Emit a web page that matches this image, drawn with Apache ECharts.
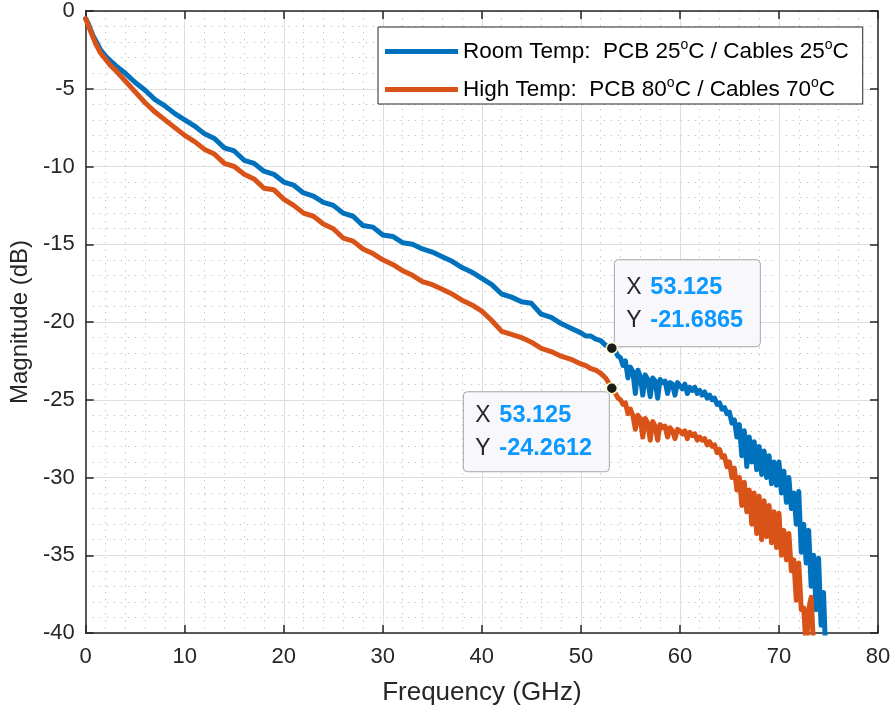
<!DOCTYPE html>
<html>
<head>
<meta charset="utf-8">
<script src="https://cdn.jsdelivr.net/npm/echarts@6/dist/echarts.min.js"></script>
<style>
html,body{margin:0;padding:0;background:#fff;}
#chart{width:895px;height:711px;}
</style>
</head>
<body>
<div id="chart"></div>
<script>
// ---- data ----
const seriesNames = ['Room Temp:  PCB 25\u00B0C / Cables 25\u00B0C', 'High Temp:  PCB 80\u00B0C / Cables 70\u00B0C'];
const legendLabels = ['Room Temp:  PCB 25{sup|o}C / Cables 25{sup|o}C', 'High Temp:  PCB 80{sup|o}C / Cables 70{sup|o}C'];
const xTicks = [0, 10, 20, 30, 40, 50, 60, 70, 80];
const yTicks = [-40, -35, -30, -25, -20, -15, -10, -5, 0];

const tipFreq = 53.125;
const tipRoom = -21.6865;
const tipHigh = -24.2612;

const freq = [
  0, 0.25, 0.5, 0.75, 1, 1.5, 2, 2.5, 3,
  4, 5, 6, 7, 8, 9, 10, 11, 12, 13,
  14, 15, 16, 17, 18, 19, 20, 21, 22, 23,
  24, 25, 26, 27, 28, 29, 30, 31, 32, 33,
  34, 35, 36, 37, 38, 39, 40, 41, 42, 43,
  44, 45, 46, 47, 48, 49, 50,
  50.5, 51, 51.5, 52, 52.5, 53, 53.125,
  53.25, 53.5, 53.75,
  54, 54.25, 54.5, 54.75,
  55, 55.25, 55.5, 55.75,
  56, 56.25, 56.5, 56.75,
  57, 57.25, 57.5, 57.75,
  58, 58.25, 58.5, 58.75,
  59, 59.25, 59.5, 59.75,
  60, 60.25, 60.5, 60.75,
  61, 61.25, 61.5, 61.75,
  62, 62.25, 62.5, 62.75,
  63, 63.25, 63.5, 63.75,
  64, 64.25, 64.5, 64.75,
  65, 65.25, 65.5, 65.75,
  66, 66.25, 66.5, 66.75,
  67, 67.25, 67.5, 67.75,
  68, 68.25, 68.5, 68.75,
  69, 69.25, 69.5, 69.75,
  70, 70.25, 70.5, 70.75,
  71, 71.25, 71.5, 71.75,
  72, 72.25, 72.5, 72.75,
  73, 73.25, 73.5, 73.75,
  74, 74.25, 74.5, 74.75
];

const roomTemp = [
  -0.5, -0.8, -1.2, -1.6, -1.9, -2.5, -2.9, -3.2, -3.5,
  -4.0, -4.6, -5.1, -5.7, -6.1, -6.6, -7.0, -7.4, -7.9, -8.2,
  -8.8, -9.0, -9.6, -9.8, -10.3, -10.5, -11.0, -11.2, -11.7, -11.9,
  -12.3, -12.5, -13.0, -13.2, -13.8, -13.9, -14.4, -14.5, -14.9, -15.0,
  -15.3, -15.5, -15.8, -16.1, -16.5, -16.8, -17.2, -17.6, -18.2, -18.4,
  -18.7, -18.8, -19.5, -19.7, -20.1, -20.4, -20.7,
  -20.9, -20.9, -21.1, -21.2, -21.5, -21.6, -21.6865,
  -21.8, -21.9, -22.2,
  -22.3, -22.8, -22.5, -23.6,
  -22.9, -23.2, -24.6, -23.1,
  -23.5, -24.7, -23.4, -23.7,
  -24.8, -23.6, -23.8, -24.9,
  -23.7, -23.9, -23.8, -24.6,
  -23.9, -24.0, -24.7, -23.9,
  -24.1, -24.3, -24.0, -24.6,
  -24.2, -24.4, -24.2, -24.6,
  -24.4, -24.7, -24.5, -24.9,
  -24.7, -25.0, -24.9, -25.3,
  -25.2, -25.6, -25.5, -25.9,
  -25.8, -26.5, -26.3, -27.4,
  -26.6, -28.6, -27.0, -29.3,
  -27.4, -29.0, -27.7, -29.5,
  -28.0, -29.8, -28.3, -30.0,
  -28.6, -30.4, -29.0, -30.5,
  -29.0, -31.0, -29.6, -31.6,
  -30.0, -32.0, -31.0, -33.0,
  -30.9, -34.8, -33.0, -35.5,
  -33.4, -37.0, -35.0, -38.5,
  -35.2, -39.5, -37.4, -42.0
];

const highTemp = [
  -0.5, -0.9, -1.3, -1.7, -2.1, -2.7, -3.1, -3.5, -3.8,
  -4.5, -5.2, -5.9, -6.5, -7.0, -7.5, -8.0, -8.4, -8.9, -9.2,
  -9.8, -10.0, -10.5, -10.8, -11.4, -11.5, -12.1, -12.5, -13.0, -13.2,
  -13.7, -14.0, -14.6, -14.8, -15.3, -15.6, -16.0, -16.3, -16.7, -17.0,
  -17.4, -17.6, -17.9, -18.2, -18.6, -18.9, -19.3, -19.9, -20.6, -20.8,
  -21.0, -21.3, -21.7, -21.9, -22.2, -22.4, -22.7,
  -22.8, -23.0, -23.1, -23.3, -23.6, -24.1, -24.2612,
  -24.4, -24.6, -24.9,
  -25.0, -25.3, -25.2, -25.9,
  -25.6, -26.0, -26.9, -26.0,
  -26.2, -27.4, -26.2, -26.5,
  -27.6, -26.4, -26.7, -27.6,
  -26.6, -26.8, -26.7, -27.4,
  -26.8, -27.0, -27.5, -26.9,
  -27.0, -27.2, -27.0, -27.5,
  -27.1, -27.3, -27.2, -27.6,
  -27.4, -27.6, -27.5, -27.9,
  -27.7, -28.0, -27.9, -28.4,
  -28.2, -28.7, -28.6, -29.3,
  -29.0, -30.0, -29.4, -30.8,
  -30.0, -31.8, -30.3, -32.2,
  -30.8, -33.0, -31.0, -33.6,
  -31.2, -34.0, -31.5, -33.8,
  -31.8, -34.2, -32.2, -34.5,
  -32.3, -35.0, -33.4, -35.3,
  -33.6, -36.0, -35.3, -37.9,
  -35.5, -38.5, -38.4, -41.0,
  -38.5, -37.7, -41.0, null,
  null, null, null, null
];

// ---- chart ----
const FONT = '"Liberation Sans", Arial, Helvetica, sans-serif';
const AX = '#262626';
const colors = ['#0072BD', '#D95319'];

function pairs(vals) { return freq.map((f, i) => [f, vals[i]]); }

const chart = echarts.init(document.getElementById('chart'), null, { renderer: 'canvas' });

const minorLine = { show: true, lineStyle: { color: '#c8c8c8', width: 1, type: [1.5, 5.5] } };
const majorLine = { show: true, lineStyle: { color: '#dedede', width: 1, type: 'solid' } };
const tick = { show: true, inside: true, length: 8, lineStyle: { color: AX, width: 1.5 } };
const axLine = { show: true, onZero: false, lineStyle: { color: AX, width: 1.5 } };

const marker = (x, y) => ({
  symbol: 'circle', symbolSize: 11, silent: true,
  itemStyle: { color: '#1a1a1a', borderColor: '#fbf8c8', borderWidth: 1.5 },
  label: { show: false },
  data: [{ coord: [x, y] }]
});

const option = {
  animation: false,
  backgroundColor: '#ffffff',
  textStyle: { fontFamily: FONT },
  grid: { left: 84, right: 17, top: 9, bottom: 78, containLabel: false },
  legend: {
    left: 378, top: 27, orient: 'vertical',
    backgroundColor: '#ffffff', borderColor: AX, borderWidth: 1,
    padding: [11, 14, 1, 7], itemGap: 11,
    itemWidth: 73, itemHeight: 5, icon: 'rect',
    data: seriesNames,
    formatter: (name) => legendLabels[seriesNames.indexOf(name)],
    textStyle: {
      fontFamily: FONT, fontSize: 22.5, color: '#000', lineHeight: 24,
      rich: { sup: { fontFamily: FONT, fontSize: 14, color: '#000', padding: [0, 0, 13, 0], lineHeight: 24 } }
    }
  },
  xAxis: [{
    type: 'value', min: xTicks[0], max: xTicks[xTicks.length - 1], interval: 10, position: 'bottom',
    name: 'Frequency (GHz)', nameLocation: 'middle', nameGap: 47,
    nameTextStyle: { fontFamily: FONT, fontSize: 26, color: AX },
    axisLine: axLine, axisTick: tick,
    axisLabel: { fontFamily: FONT, fontSize: 22, color: AX, margin: 13 },
    splitLine: majorLine,
    minorTick: { show: false, splitNumber: 5 },
    minorSplitLine: minorLine
  }, {
    type: 'value', min: xTicks[0], max: xTicks[xTicks.length - 1], interval: 10, position: 'top',
    axisLine: axLine, axisTick: tick, axisLabel: { show: false }, splitLine: { show: false }
  }],
  yAxis: [{
    type: 'value', min: yTicks[0], max: yTicks[yTicks.length - 1], interval: 5, position: 'left',
    name: 'Magnitude (dB)', nameLocation: 'middle', nameGap: 52,
    nameTextStyle: { fontFamily: FONT, fontSize: 24, color: AX },
    axisLine: axLine, axisTick: tick,
    axisLabel: { fontFamily: FONT, fontSize: 22, color: AX, margin: 11 },
    splitLine: majorLine,
    minorTick: { show: false, splitNumber: 5 },
    minorSplitLine: minorLine
  }, {
    type: 'value', min: yTicks[0], max: yTicks[yTicks.length - 1], interval: 5, position: 'right',
    axisLine: axLine, axisTick: tick, axisLabel: { show: false }, splitLine: { show: false }
  }],
  series: [{
    name: seriesNames[0], type: 'line', data: pairs(roomTemp),
    showSymbol: false, symbol: 'none', sampling: null, clip: true,
    lineStyle: { color: colors[0], width: 5, join: 'round', cap: 'round' },
    itemStyle: { color: colors[0] },
    markPoint: marker(tipFreq, tipRoom), z: 3
  }, {
    name: seriesNames[1], type: 'line', data: pairs(highTemp),
    showSymbol: false, symbol: 'none', sampling: null, clip: true,
    lineStyle: { color: colors[1], width: 5, join: 'round', cap: 'round' },
    itemStyle: { color: colors[1] },
    markPoint: marker(tipFreq, tipHigh), z: 4
  }]
};

chart.setOption(option);

// ---- data tips anchored to the data points ----
function tipBox(left, top, w, h, yVal) {
  const keyStyle = { fontFamily: FONT, fontSize: 23, fill: '#262626' };
  const valStyle = { fontFamily: FONT, fontSize: 23.5, fontWeight: 'bold', fill: '#0b98ff' };
  return {
    type: 'group', left: left, top: top, z: 100,
    children: [
      { type: 'rect', shape: { x: 0, y: 0, width: w, height: h, r: 4 },
        style: { fill: '#f8f8fc', stroke: '#a6a6a6', lineWidth: 1 } },
      { type: 'text', x: 12, y: h / 2 - 16, style: Object.assign({ text: 'X', textVerticalAlign: 'middle' }, keyStyle) },
      { type: 'text', x: 36, y: h / 2 - 16, style: Object.assign({ text: String(tipFreq), textVerticalAlign: 'middle' }, valStyle) },
      { type: 'text', x: 12, y: h / 2 + 17, style: Object.assign({ text: 'Y', textVerticalAlign: 'middle' }, keyStyle) },
      { type: 'text', x: 36, y: h / 2 + 17, style: Object.assign({ text: String(yVal), textVerticalAlign: 'middle' }, valStyle) }
    ]
  };
}

const p1 = chart.convertToPixel({ xAxisIndex: 0, yAxisIndex: 0 }, [tipFreq, tipRoom]);
const p2 = chart.convertToPixel({ xAxisIndex: 0, yAxisIndex: 0 }, [tipFreq, tipHigh]);
chart.setOption({
  graphic: [
    tipBox(p1[0] + 2, p1[1] - 89, 146, 87, tipRoom),
    tipBox(p2[0] - 149, p2[1] + 3, 146, 80, tipHigh)
  ]
});
</script>
</body>
</html>
